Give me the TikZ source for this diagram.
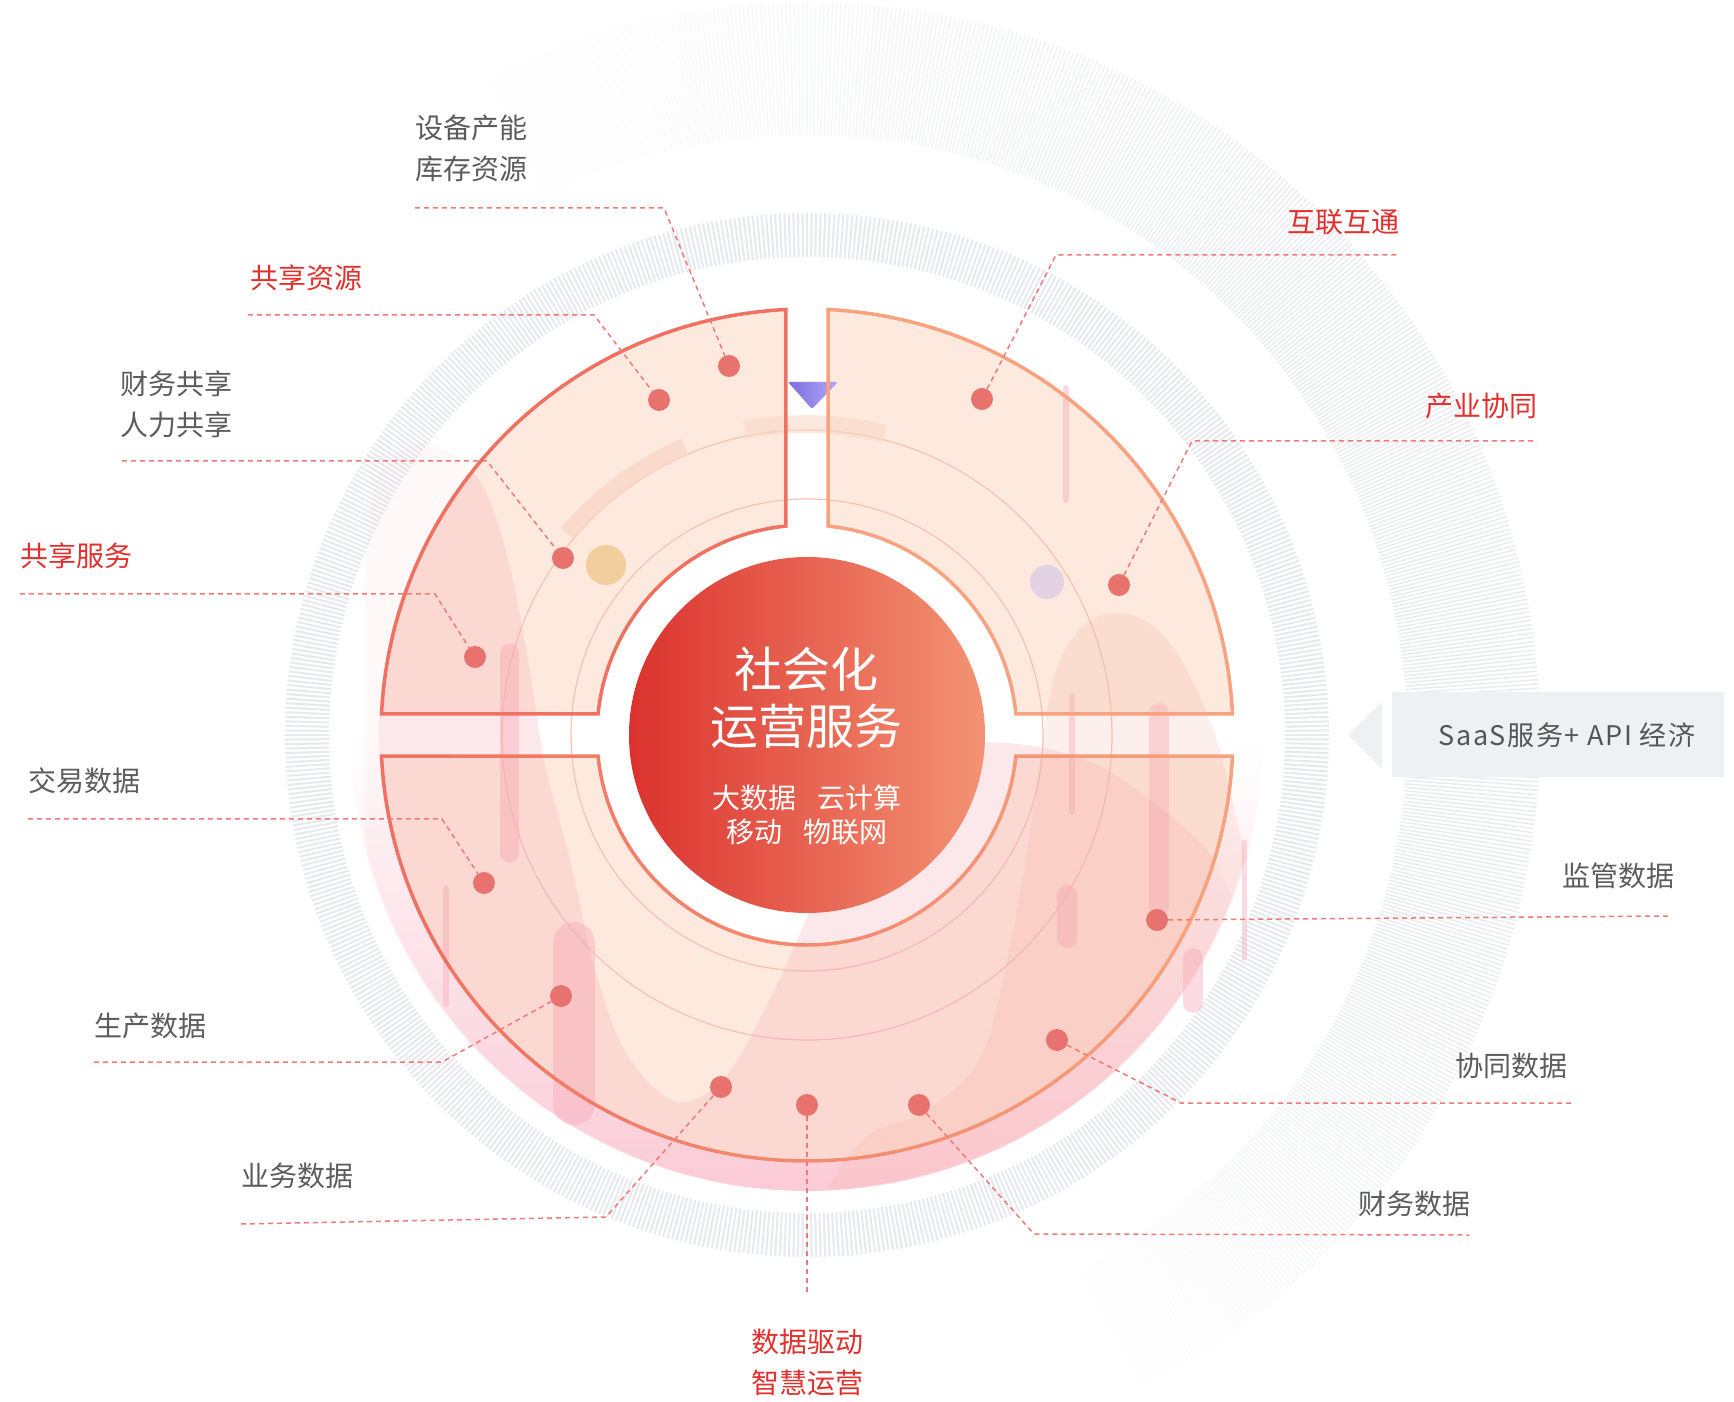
\documentclass[tikz,border=0pt]{standalone}
\usepackage{fontspec}
\setmainfont{Noto Sans CJK SC}
\usepackage{xcolor}
\usepackage{tikz}
\definecolor{cgray}{HTML}{5C5C5C}
\definecolor{cred}{HTML}{E2302C}
\definecolor{cline}{HTML}{EE7B78}
\definecolor{cdot}{HTML}{E8736E}
\definecolor{cfill}{HTML}{FDE9DD}
\definecolor{cedge}{HTML}{F07161}
\definecolor{cedgeb}{HTML}{F8A27F}
\definecolor{ctick}{HTML}{E7E9EF}
\definecolor{ctickb}{HTML}{E6E8EE}
\definecolor{cglow}{HTML}{FCCFDB}
\definecolor{cwave}{HTML}{F7A3AE}
\definecolor{cwaveb}{HTML}{F6B09E}
\definecolor{cbar}{HTML}{F9AFBD}
\definecolor{cband}{HTML}{F9D6C4}
\definecolor{cring}{HTML}{F6C3B3}
\definecolor{ccorel}{HTML}{DB322E}
\definecolor{ccorer}{HTML}{F39474}
\definecolor{cbox}{HTML}{EFF0F4}
\definecolor{ctext}{HTML}{555555}
\definecolor{cyel}{HTML}{F2CE9E}
\definecolor{cplum}{HTML}{E2D2E4}
\definecolor{cvio}{HTML}{7E6DE2}
\definecolor{cviol}{HTML}{B3A7F5}

\tikzset{
  datadot/.style={circle, fill=cdot, inner sep=0pt, minimum size=22pt},
  leadline/.style={cline, line width=1.5pt, dash pattern=on 5pt off 4pt},
  lbl/.style={font=\fontsize{28}{41}\selectfont, text=cgray, align=left, inner sep=0pt},
  lblred/.style={lbl, text=cred},
  pinkbar/.style={cbar, line cap=round, opacity=0.45},
}

\newcommand{\quadtl}{(92.83:426) arc[start angle=92.83, end angle=177.17, radius=426] -- (174.26:210) arc[start angle=174.26, end angle=95.74, radius=210] -- cycle}
\newcommand{\quadtr}{(87.17:426) arc[start angle=87.17, end angle=2.83, radius=426] -- (5.74:210) arc[start angle=5.74, end angle=84.26, radius=210] -- cycle}
\newcommand{\quadbt}{(182.83:426) arc[start angle=182.83, end angle=357.17, radius=426] -- (354.26:210) arc[start angle=354.26, end angle=185.74, radius=210] -- cycle}
\newcommand{\waveone}{(-442,-108) -- plot[smooth, tension=0.55] coordinates {(-442,150) (-432,250) (-400,288) (-360,284) (-325,250) (-300,180) (-280,80) (-262,-30) (-237,-125) (-212,-235) (-180,-320) (-130,-367) (-80,-340) (-30,-250) (20,-140) (80,-50) (150,-12) (220,-10) (290,-30) (350,-70) (400,-115) (425,-163)} arc[start angle=-21, end angle=-166.3, radius=455] -- cycle}

\begin{document}
\begin{tikzpicture}[x=1pt, y=1pt]
\useasboundingbox (-807,-667) rectangle (927,735);
\fill[white] (-807,-667) rectangle (927,735);

\foreach \i in {0,...,555} {
  \pgfmathsetmacro\ang{120-\i/3}
  \pgfmathsetmacro\opa{min(0.85,(\ang+65)/50,(120-\ang)/90)}
  \draw[ctickb, line width=1.4pt, draw opacity=\opa] (\ang:600) -- (\ang:733);
}
\foreach \i in {0,...,719} {
  \draw[ctick, line width=2pt] (\i/2:478) -- (\i/2:522);
}

\shade[top color=white, bottom color=cglow, middle color=white] (0,0) circle (456);
\fill[white] (0,0) circle (428);

\fill[cfill] \quadtl;
\fill[cfill] \quadtr;
\fill[cfill] \quadbt;

\draw[cring, line width=1.2pt] (0,0) circle (236);
\draw[cring, line width=1.2pt] (0,0) circle (305);
\draw[cband, line width=17pt, opacity=0.75] (140:313) arc[start angle=140, end angle=113, radius=313];
\draw[cband, line width=18pt, opacity=0.55] (101.5:311) arc[start angle=101.5, end angle=75.6, radius=311];

\draw[pinkbar, line width=19pt] (-297,82) -- (-297,-118);
\draw[pinkbar, line width=42pt] (-233,-208) -- (-233,-369);
\draw[pinkbar, line width=6pt] (-361,-154) -- (-361,-269);
\draw[pinkbar, line width=6pt] (259,347) -- (259,235);
\draw[pinkbar, line width=6pt] (265,39) -- (265,-77);
\draw[pinkbar, line width=20pt] (352,22) -- (352,-172);
\draw[pinkbar, line width=20pt] (260,-160) -- (260,-203);
\draw[pinkbar, line width=20pt] (386,-223) -- (386,-268);
\draw[pinkbar, line width=5pt] (437,-107) -- (437,-223);

\fill[cwave, opacity=0.07] \waveone;
\begin{scope}
  \clip (0,0) circle (428);
  \fill[cwave, opacity=0.18] \waveone;
\end{scope}
\fill[cwaveb, opacity=0.2] (20,-455) -- plot[smooth, tension=0.55] coordinates {(40,-420) (70,-395) (120,-375) (175,-320) (205,-200) (226,-78) (246,55) (275,108) (310,122) (345,110) (376,72) (410,-5) (433,-100) (438,-123)} arc[start angle=-15.7, end angle=-87.5, radius=455] -- cycle;

\fill[cyel] (-201,170) circle (20);
\fill[cplum] (240,153) circle (17);
\shade[left color=cvio, right color=cviol, rounded corners=2pt] (-19,353) -- (31,353) -- (5,326) -- cycle;

\draw[cedge, line width=3.5pt] \quadtl;
\draw[cedgeb, line width=3.5pt] \quadtr;
\foreach \k in {0,...,9} {
  \pgfmathtruncatemacro\mix{100-\k*11}
  \begin{scope}
    \clip (-445+\k*89,-445) rectangle ++(89,430);
    \draw[cedge!\mix!cedgeb, line width=3.5pt] \quadbt;
  \end{scope}
}

\node[circle, minimum size=356pt, inner sep=0pt, left color=ccorel, right color=ccorer] (core) at (0,0) {};
\node[font=\fontsize{48}{57}\selectfont, text=white, align=center, inner sep=0pt] (title) at (0,37) {社会化\\运营服务};
\node[font=\fontsize{28}{34}\selectfont, text=white, align=center, inner sep=0pt] (sub) at (0,-80) {大数据\hspace{0.75em}云计算\\移动\hspace{0.75em}物联网};

\node[datadot] (d1) at (-78,369) {};
\node[datadot] (d2) at (-148,335) {};
\node[datadot] (d3) at (-244,177) {};
\node[datadot] (d4) at (-332,78) {};
\node[datadot] (d5) at (-323,-148) {};
\node[datadot] (d6) at (-246,-261) {};
\node[datadot] (d7) at (-86,-352) {};
\node[datadot] (d8) at (0,-370) {};
\node[datadot] (d9) at (112,-370) {};
\node[datadot] (d10) at (250,-305) {};
\node[datadot] (d11) at (350,-185) {};
\node[datadot] (d12) at (312,150) {};
\node[datadot] (d13) at (175,336) {};

\coordinate (e1) at (-392,527);  \coordinate (b1) at (-143,527);
\coordinate (e2) at (-559,420);  \coordinate (b2) at (-213,420);
\coordinate (e3) at (-685,274);  \coordinate (b3) at (-320,274);
\coordinate (e4) at (-787,141);  \coordinate (b4) at (-372,141);
\coordinate (e5) at (-779,-84);  \coordinate (b5) at (-365,-84);
\coordinate (e6) at (-713,-327); \coordinate (b6) at (-365,-327);
\coordinate (e7) at (-566,-489); \coordinate (b7) at (-201,-482);
\coordinate (e8) at (0,-559);
\coordinate (e9) at (662,-500);  \coordinate (b9) at (227,-499);
\coordinate (e10) at (764,-368); \coordinate (b10) at (374,-368);
\coordinate (e11) at (863,-181);
\coordinate (e12) at (730,294);  \coordinate (b12) at (385,294);
\coordinate (e13) at (593,480);  \coordinate (b13) at (249,480);

\draw[leadline] (e1) -- (b1) -- (d1);
\draw[leadline] (e2) -- (b2) -- (d2);
\draw[leadline] (e3) -- (b3) -- (d3);
\draw[leadline] (e4) -- (b4) -- (d4);
\draw[leadline] (e5) -- (b5) -- (d5);
\draw[leadline] (e6) -- (b6) -- (d6);
\draw[leadline] (e7) -- (b7) -- (d7);
\draw[leadline] (d8) -- (e8);
\draw[leadline] (d9) -- (b9) -- (e9);
\draw[leadline] (d10) -- (b10) -- (e10);
\draw[leadline] (d11) -- (e11);
\draw[leadline] (d12) -- (b12) -- (e12);
\draw[leadline] (d13) -- (b13) -- (e13);

\node[lbl, anchor=west] (t1) at (-392,587) {设备产能\\库存资源};
\node[lblred, anchor=west] (t2) at (-557,457) {共享资源};
\node[lbl, anchor=west] (t3) at (-687,331) {财务共享\\人力共享};
\node[lblred, anchor=west] (t4) at (-787,179) {共享服务};
\node[lbl, anchor=west] (t5) at (-779,-46) {交易数据};
\node[lbl, anchor=west] (t6) at (-713,-291) {生产数据};
\node[lbl, anchor=west] (t7) at (-566,-441) {业务数据};
\node[lblred, align=center] (t8) at (0,-627) {数据驱动\\智慧运营};
\node[lbl, anchor=east] (t9) at (664,-469) {财务数据};
\node[lbl, anchor=east] (t10) at (761,-331) {协同数据};
\node[lbl, anchor=east] (t11) at (868,-141) {监管数据};
\node[lblred, anchor=east] (t12) at (731,329) {产业协同};
\node[lblred, anchor=east] (t13) at (593,513) {互联互通};

\fill[cbox] (575,33) -- (575,-34) -- (541,0) -- cycle;
\fill[cbox] (585,43) rectangle (917,-42);
\node[font=\fontsize{27}{30}\selectfont\addfontfeatures{LetterSpace=6}, text=ctext, inner sep=0pt] (saas) at (760,0) {SaaS服务+ API 经济};
\end{tikzpicture}
\end{document}
